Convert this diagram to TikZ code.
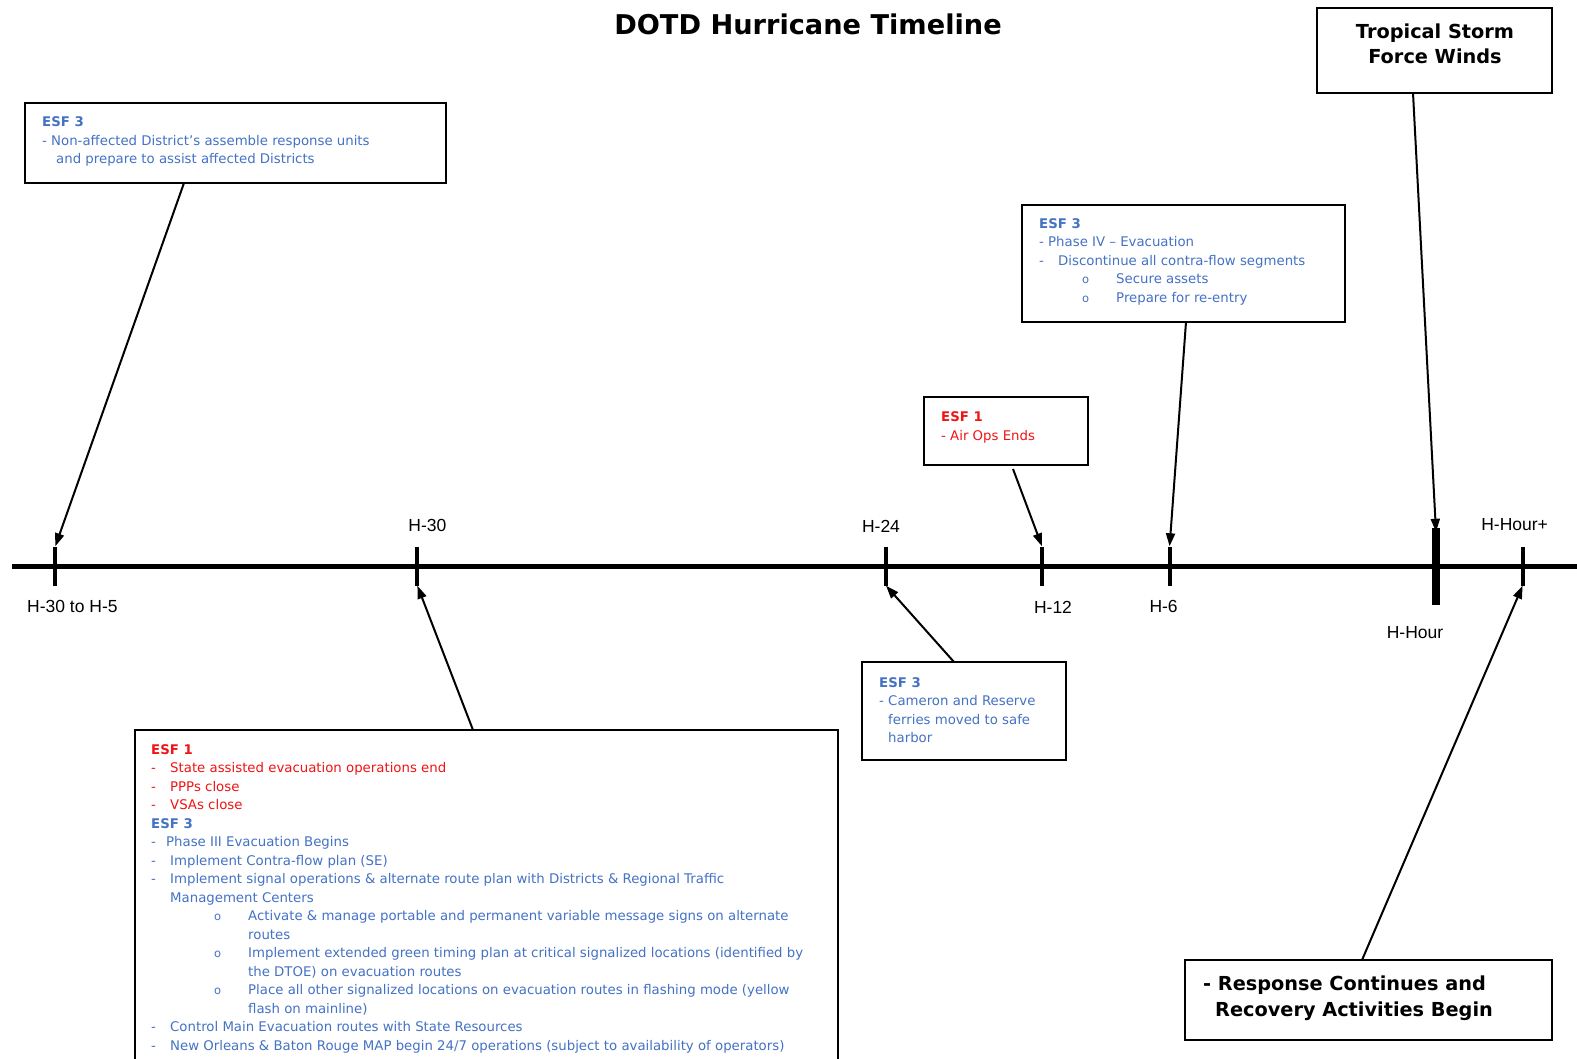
\documentclass[tikz,border=0pt]{standalone}
\usepackage{fontspec}
\setmainfont{DejaVu Sans}
\newfontfamily\labelfont{Liberation Sans}
\usetikzlibrary{arrows.meta}
\definecolor{esfblue}{RGB}{68,114,196}
\definecolor{esfred}{RGB}{240,20,20}
\newcommand\dsh{\makebox[19pt][l]{-}}
\newcommand\smallo{{\fontsize{11.5}{11.5}\selectfont o}}
\begin{document}
\begin{tikzpicture}[x=1pt,y=-1pt,
  box/.style={draw=black, line width=1.2pt, fill=white, inner sep=0pt},
  txt/.style={anchor=north west, inner sep=0pt, align=left, font=\fontsize{13.3}{18.5}\selectfont, text=esfblue},
  bigtxt/.style={inner sep=0pt, font=\bfseries\fontsize{19.3}{25.5}\selectfont},
  tickmark/.style={fill=black, inner sep=0pt, minimum width=4pt, minimum height=39pt},
  lbl/.style={inner sep=0pt, font=\labelfont\fontsize{17.5}{20}\selectfont},
  arr/.style={line width=2pt, -{Triangle[length=13pt,width=9pt]}}]
\useasboundingbox (0,0) rectangle (1577,1059);
\fill[white] (0,0) rectangle (1577,1059);

% title
\node[anchor=base, inner sep=0pt, font=\bfseries\fontsize{27.2}{30}\selectfont] (title) at (808,35) {DOTD Hurricane Timeline};

% timeline
\coordinate (tlstart) at (12,566);
\coordinate (tlend) at (1577,566);
\draw[line width=5pt] (tlstart) -- (tlend);
\node[tickmark] (t1) at (55.3,566) {};
\node[tickmark] (t2) at (417.4,566) {};
\node[tickmark] (t3) at (886,566) {};
\node[tickmark] (t4) at (1042,566) {};
\node[tickmark] (t5) at (1169.6,566) {};
\node[tickmark, minimum width=8pt, minimum height=77pt] (t6) at (1436,566.5) {};
\node[tickmark] (t7) at (1522.6,566) {};

% labels
\node[lbl] (l1) at (72.4,606.5) {H-30 to H-5};
\node[lbl] (l2) at (427.4,525) {H-30};
\node[lbl] (l3) at (881,526) {H-24};
\node[lbl] (l4) at (1053,607.5) {H-12};
\node[lbl] (l5) at (1163.6,606.5) {H-6};
\node[lbl] (l6) at (1415,632.6) {H-Hour};
\node[lbl] (l7) at (1514.6,525) {H-Hour+};

% boxes
\node[box, minimum width=421pt, minimum height=80pt] (boxA) at (235.5,143) {};
\node[box, minimum width=323pt, minimum height=117pt] (boxB) at (1183.5,263.5) {};
\node[box, minimum width=164pt, minimum height=68pt] (boxC) at (1006,431) {};
\node[box, minimum width=204pt, minimum height=98pt] (boxD) at (964,711) {};
\node[box, minimum width=703pt, minimum height=345pt] (boxE) at (486.5,902.5) {};
\node[box, minimum width=235pt, minimum height=85pt] (boxF) at (1434.5,50.5) {};
\node[box, minimum width=367pt, minimum height=80pt] (boxG) at (1368.5,1000) {};

% box texts
\node[txt] (textA) at (42,114.5) {\rule{0pt}{12pt}\textbf{ESF 3}\\
- Non-affected District’s assemble response units\\
\hspace*{14pt}and prepare to assist affected Districts};

\node[txt] (textB) at (1039,216) {\rule{0pt}{12pt}\textbf{ESF 3}\\
- Phase IV – Evacuation\\
\dsh Discontinue all contra-flow segments\\
\hspace*{43pt}\makebox[34pt][l]{\smallo}Secure assets\\
\hspace*{43pt}\makebox[34pt][l]{\smallo}Prepare for re-entry};

\node[txt, text=esfred] (textC) at (941,409.5) {\rule{0pt}{12pt}\textbf{ESF 1}\\
- Air Ops Ends};

\node[txt] (textD) at (879,675) {\rule{0pt}{12pt}\textbf{ESF 3}\\
- Cameron and Reserve\\
\phantom{- }ferries moved to safe\\
\phantom{- }harbor};

\node[txt] (textE) at (151,742) {\rule{0pt}{12pt}\textcolor{esfred}{\textbf{ESF 1}}\\
\textcolor{esfred}{\dsh State assisted evacuation operations end}\\
\textcolor{esfred}{\dsh PPPs close}\\
\textcolor{esfred}{\dsh VSAs close}\\
\textbf{ESF 3}\\
\makebox[15pt][l]{-}Phase III Evacuation Begins\\
\dsh Implement Contra-flow plan (SE)\\
\dsh Implement signal operations \& alternate route plan with Districts \& Regional Traffic\\
\hspace*{19pt}Management Centers\\
\hspace*{63pt}\makebox[34pt][l]{\smallo}Activate \& manage portable and permanent variable message signs on alternate\\
\hspace*{97pt}routes\\
\hspace*{63pt}\makebox[34pt][l]{\smallo}Implement extended green timing plan at critical signalized locations (identified by\\
\hspace*{97pt}the DTOE) on evacuation routes\\
\hspace*{63pt}\makebox[34pt][l]{\smallo}Place all other signalized locations on evacuation routes in flashing mode (yellow\\
\hspace*{97pt}flash on mainline)\\
\dsh Control Main Evacuation routes with State Resources\\
\dsh New Orleans \& Baton Rouge MAP begin 24/7 operations (subject to availability of operators)};

\node[bigtxt, anchor=north, align=center] (textF) at (1435,20) {\rule{0pt}{18pt}Tropical Storm\\Force Winds};
\node[bigtxt, anchor=north west, align=left] (textG) at (1203,972.6) {\rule{0pt}{18pt}- Response Continues and\\\hspace*{12pt}Recovery Activities Begin};

% connectors
\coordinate (a1) at (184,183);
\coordinate (e1) at (473,730);
\coordinate (d1) at (954,662);
\coordinate (c1) at (1013,469);
\coordinate (b1) at (1186,322);
\coordinate (f1) at (1413,93);
\coordinate (g1) at (1362,960);
\draw[arr] (a1) -- (t1.north);
\draw[arr] (e1) -- (t2.south);
\draw[arr] (d1) -- (t3.south);
\draw[arr] (c1) -- (t4.north);
\draw[arr] (b1) -- (t5.north);
\draw[arr] (f1) -- ([yshift=-4pt]t6.north);
\draw[arr] (g1) -- (t7.south);
\end{tikzpicture}
\end{document}
